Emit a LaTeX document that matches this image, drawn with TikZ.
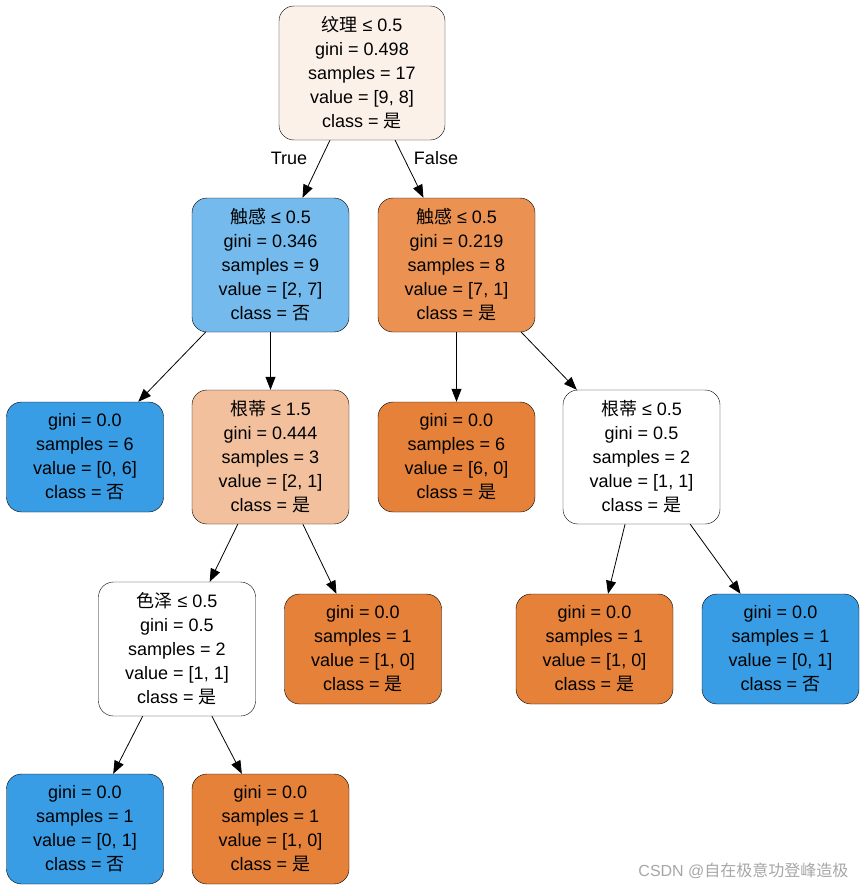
\documentclass[tikz,border=0pt]{standalone}
\usepackage{fontspec}
\setmainfont{Liberation Sans}
\newfontfamily\cjk{Noto Sans CJK SC}
\newcommand{\zh}[1]{{\cjk #1}}
\usetikzlibrary{arrows.meta}
\definecolor{cBlue}{HTML}{399DE5}
\definecolor{cOrange}{HTML}{E58139}
\definecolor{cRoot}{HTML}{FCF1E9}
\definecolor{cLb}{HTML}{74BAED}
\definecolor{cRo}{HTML}{EB9252}
\definecolor{cLo}{HTML}{F2C09C}
\tikzset{
 tn/.style={draw, rounded corners=15pt, minimum width=157pt, align=center, font=\fontsize{18pt}{24pt}\selectfont, inner sep=0pt},
 split/.style={tn, minimum height=134pt},
 leaf/.style={tn, minimum height=110pt},
 edge/.style={-{Triangle[length=13pt,width=10pt]}, line width=0.8pt},
 lbl/.style={font=\fontsize{18pt}{22pt}\selectfont}
}
\begin{document}
\begin{tikzpicture}[x=1pt,y=-1pt]
\useasboundingbox (0,0) rectangle (865,891);
\node[split, fill=cRoot, minimum width=166pt] (r) at (362,73) {\zh{纹理} ≤ 0.5\\gini = 0.498\\samples = 17\\value = [9, 8]\\class = \zh{是}};
\node[split, fill=cLb] (a) at (270.5,265) {\zh{触感} ≤ 0.5\\gini = 0.346\\samples = 9\\value = [2, 7]\\class = \zh{否}};
\node[split, fill=cRo] (b) at (456.5,265) {\zh{触感} ≤ 0.5\\gini = 0.219\\samples = 8\\value = [7, 1]\\class = \zh{是}};
\node[leaf, fill=cBlue] (c) at (85,457) {gini = 0.0\\samples = 6\\value = [0, 6]\\class = \zh{否}};
\node[split, fill=cLo] (d) at (270.5,457) {\zh{根蒂} ≤ 1.5\\gini = 0.444\\samples = 3\\value = [2, 1]\\class = \zh{是}};
\node[leaf, fill=cOrange] (e) at (456.5,457) {gini = 0.0\\samples = 6\\value = [6, 0]\\class = \zh{是}};
\node[split, fill=white] (f) at (641.5,457) {\zh{根蒂} ≤ 0.5\\gini = 0.5\\samples = 2\\value = [1, 1]\\class = \zh{是}};
\node[split, fill=white] (g) at (177,649) {\zh{色泽} ≤ 0.5\\gini = 0.5\\samples = 2\\value = [1, 1]\\class = \zh{是}};
\node[leaf, fill=cOrange] (h) at (363,649) {gini = 0.0\\samples = 1\\value = [1, 0]\\class = \zh{是}};
\node[leaf, fill=cOrange] (i) at (594.5,649) {gini = 0.0\\samples = 1\\value = [1, 0]\\class = \zh{是}};
\node[leaf, fill=cBlue] (j) at (780.5,649) {gini = 0.0\\samples = 1\\value = [0, 1]\\class = \zh{否}};
\node[leaf, fill=cBlue] (k) at (85,829) {gini = 0.0\\samples = 1\\value = [0, 1]\\class = \zh{否}};
\node[leaf, fill=cOrange] (l) at (270.5,829) {gini = 0.0\\samples = 1\\value = [1, 0]\\class = \zh{是}};
\draw[edge] (r) -- (a);
\draw[edge] (r) -- (b);
\draw[edge] (a) -- (c);
\draw[edge] (a.south) -- (d.north);
\draw[edge] (b.south) -- (e.north);
\draw[edge] (b) -- (f);
\draw[edge] (d) -- (g);
\draw[edge] (d) -- (h);
\draw[edge] (f) -- (i);
\draw[edge] (f) -- (j);
\draw[edge] (g) -- (k);
\draw[edge] (g) -- (l);
\node[lbl] (t) at (289,158) {True};
\node[lbl] (fl) at (436,158) {False};
\node[font=\fontsize{16pt}{18pt}\selectfont, text=gray!70, anchor=east] (w) at (852,871) {CSDN @\zh{自在极意功登峰造极}};
\end{tikzpicture}
\end{document}
